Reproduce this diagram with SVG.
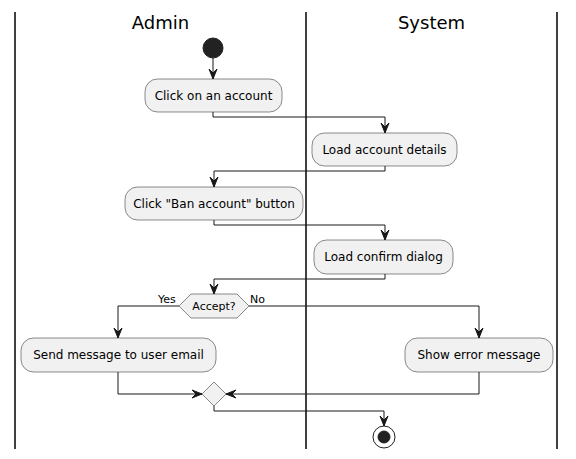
<svg xmlns="http://www.w3.org/2000/svg" width="576" height="459" viewBox="0 0 576 459">
<defs>
<style>
.lane{stroke:#000;stroke-width:1.5;fill:none}
.title{font-family:"DejaVu Sans",sans-serif;font-size:18px;fill:#000;text-anchor:middle}
.act rect{fill:#F1F1F1;stroke:#181818;stroke-width:0.5}
.act text,.dec text{font-family:"DejaVu Sans",sans-serif;font-size:12px;fill:#000;text-anchor:middle}
.dec polygon{fill:#F1F1F1;stroke:#181818;stroke-width:0.5}
.dec text{font-size:11px}
.lbl{font-family:"DejaVu Sans",sans-serif;font-size:11px;fill:#000}
.conn path{fill:none;stroke:#181818;stroke-width:1}
.ah{fill:#181818;stroke:#181818;stroke-width:1}
</style>
</defs>
<rect width="576" height="459" fill="#fff"/>
<g id="lanes">
<line class="lane" x1="15" y1="12" x2="15" y2="449"/>
<line class="lane" x1="306" y1="12" x2="306" y2="449"/>
<line class="lane" x1="557" y1="12" x2="557" y2="449"/>
<text class="title" x="160.5" y="29">Admin</text>
<text class="title" x="431.5" y="29">System</text>
</g>
<g class="conn" id="connectors">
<path d="M213,58 V79"/>
<polygon class="ah" points="209,69 213,79 217,69 213,73"/>
<path d="M213,112 V117 H385 V133"/>
<polygon class="ah" points="381,123 385,133 389,123 385,127"/>
<path d="M385,166 V171 H214 V187"/>
<polygon class="ah" points="210,177 214,187 218,177 214,181"/>
<path d="M214,220 V225 H385 V240"/>
<polygon class="ah" points="381,230 385,240 389,230 385,234"/>
<path d="M385,274 V279 H214 V294"/>
<polygon class="ah" points="210,284 214,294 218,284 214,288"/>
<path d="M179,306 H118 V338"/>
<polygon class="ah" points="114,328 118,338 122,328 118,332"/>
<path d="M249,306 H479 V338"/>
<polygon class="ah" points="475,328 479,338 483,328 479,332"/>
<path d="M118,372 V394 H202"/>
<polygon class="ah" points="192,390 202,394 192,398 196,394"/>
<path d="M479,372 V394 H226"/>
<polygon class="ah" points="236,390 226,394 236,398 232,394"/>
<path d="M214,406 V411 H384 V426"/>
<polygon class="ah" points="380,416 384,426 388,416 384,420"/>
</g>
<g id="start"><circle cx="213" cy="48" r="10" fill="#222" stroke="#222"/></g>
<g id="click_account" class="act"><rect x="145" y="79" width="137" height="33" rx="12.5"/><text x="213.5" y="100">Click on an account</text></g>
<g id="load_details" class="act"><rect x="312" y="133" width="145" height="33" rx="12.5"/><text x="384.5" y="154">Load account details</text></g>
<g id="click_ban" class="act"><rect x="125" y="187" width="178" height="33" rx="12.5"/><text x="214" y="208">Click "Ban account" button</text></g>
<g id="load_confirm" class="act"><rect x="314" y="240" width="139" height="34" rx="12.5"/><text x="383.5" y="261">Load confirm dialog</text></g>
<g id="accept" class="dec"><polygon points="179,306 191,294 237,294 249,306 237,318 191,318"/><text x="214" y="310">Accept?</text></g>
<text class="lbl" x="158" y="303">Yes</text>
<text class="lbl" x="250" y="303">No</text>
<g id="send_email" class="act"><rect x="21" y="338" width="195" height="34" rx="12.5"/><text x="118.5" y="359">Send message to user email</text></g>
<g id="show_error" class="act"><rect x="405" y="338" width="148" height="34" rx="12.5"/><text x="479" y="359">Show error message</text></g>
<g id="merge" class="dec"><polygon points="214,382 226,394 214,406 202,394"/></g>
<g id="end"><circle cx="384" cy="437" r="11" fill="none" stroke="#222" stroke-width="1"/><circle cx="384" cy="437" r="6" fill="#222" stroke="#222"/></g>
</svg>
